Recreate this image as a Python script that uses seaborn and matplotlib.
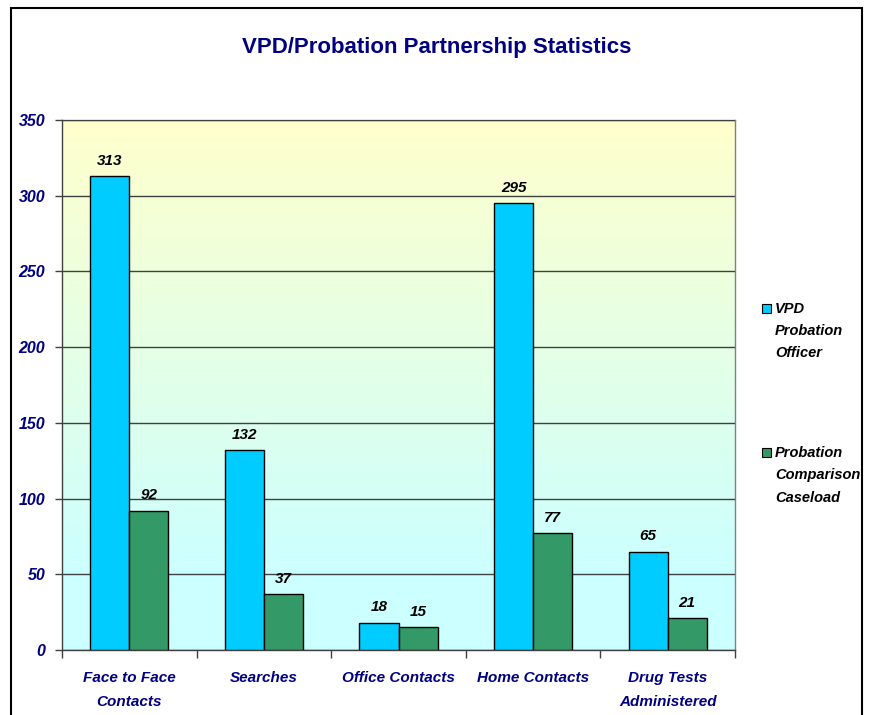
import matplotlib
matplotlib.use('Agg')
import matplotlib.pyplot as plt
import numpy as np
import pandas as pd
import seaborn as sns
from matplotlib.patches import Rectangle

# Data
categories = ['Face to Face\nContacts', 'Searches', 'Office Contacts', 'Home Contacts', 'Drug Tests\nAdministered']
officer = [313, 132, 18, 295, 65]
caseload = [92, 37, 15, 77, 21]
series_names = ['VPD Probation Officer', 'Probation Comparison Caseload']
legend_labels = ['VPD\nProbation\nOfficer', 'Probation\nComparison\nCaseload']
colors = ['#00CCFF', '#339966']

df = pd.DataFrame({
    'category': categories * 2,
    'series': [series_names[0]] * 5 + [series_names[1]] * 5,
    'value': officer + caseload,
})

sns.set_style('white')
plt.rcParams['font.family'] = ['Liberation Sans', 'DejaVu Sans']
navy = '#000080'

fig = plt.figure(figsize=(8.69, 7.15), dpi=100)
ax = fig.add_axes([62 / 869, 65 / 715, 673 / 869, 530 / 715])

# gradient background yellow -> cyan
t = np.linspace(0, 1, 256)
w = np.clip((t - 0.15) / 0.85, 0, 1)
top = np.array([255, 255, 204]) / 255
bot = np.array([204, 255, 255]) / 255
grad = (bot[None, :] * (1 - w[:, None]) + top[None, :] * w[:, None])[:, None, :]
ax.imshow(grad, extent=[0, 1, 0, 1], transform=ax.transAxes, origin='lower',
          aspect='auto', zorder=0)

sns.barplot(data=df, x='category', y='value', hue='series', palette=colors,
            saturation=1, width=0.58, edgecolor='black', linewidth=1, ax=ax,
            zorder=3, legend=False)

ax.set_xlim(-0.5, 4.5)
ax.set_ylim(0, 350)
ax.set_yticks(range(0, 351, 50))
ax.yaxis.grid(True, color='#404040', linewidth=1)
ax.set_axisbelow(False)
for gl in ax.get_ygridlines():
    gl.set_zorder(1)
ax.set_xlabel('')
ax.set_ylabel('')

for s in ['left', 'bottom', 'top', 'right']:
    ax.spines[s].set_visible(True)
    ax.spines[s].set_color('#808080')
    ax.spines[s].set_linewidth(1)
ax.spines['left'].set_color('#404040')
ax.spines['bottom'].set_color('#404040')

ax.set_xticks(np.arange(-0.5, 5, 1))
ax.set_xticklabels([])
ax.set_xticks(range(5), minor=True)
ax.set_xticklabels(categories, minor=True, fontsize=11, fontweight='bold',
                   fontstyle='italic', color=navy, linespacing=1.95)
ax.tick_params(axis='x', which='major', direction='out', length=6, width=1,
               color='#404040', bottom=True)
ax.tick_params(axis='x', which='minor', length=0, pad=15)
ax.tick_params(axis='y', direction='out', length=5, width=1, color='#404040',
               left=True, pad=7)
for lab in ax.get_yticklabels():
    lab.set_fontsize(11.5)
    lab.set_fontweight('bold')
    lab.set_fontstyle('italic')
    lab.set_color(navy)

for cont in ax.containers:
    ax.bar_label(cont, padding=6, fontsize=11, fontweight='bold',
                 fontstyle='italic', color='black')

fig.text(0.503, 0.933, 'VPD/Probation Partnership Statistics', ha='center',
         va='center', fontsize=16, fontweight='bold', color=navy)

# legend drawn by hand to keep the marker on the first line
leg_y = [308, 452]
for col, lab, yy in zip(colors, legend_labels, leg_y):
    fig.patches.append(Rectangle((762 / 869, 1 - (yy + 5) / 715), 9 / 869, 9 / 715,
                                 transform=fig.transFigure, facecolor=col,
                                 edgecolor='black', linewidth=0.8))
    fig.text(775 / 869, 1 - (yy - 6) / 715, lab, ha='left', va='top',
             fontsize=10.5, fontweight='bold', fontstyle='italic',
             color='black', linespacing=1.75)

# outer frame
fig.patches.append(Rectangle((11 / 869, -0.05), 851 / 869, 1.05 - 8 / 715,
                             transform=fig.transFigure, fill=False,
                             edgecolor='black', linewidth=1.5))

fig.savefig('out.png', dpi=100)
